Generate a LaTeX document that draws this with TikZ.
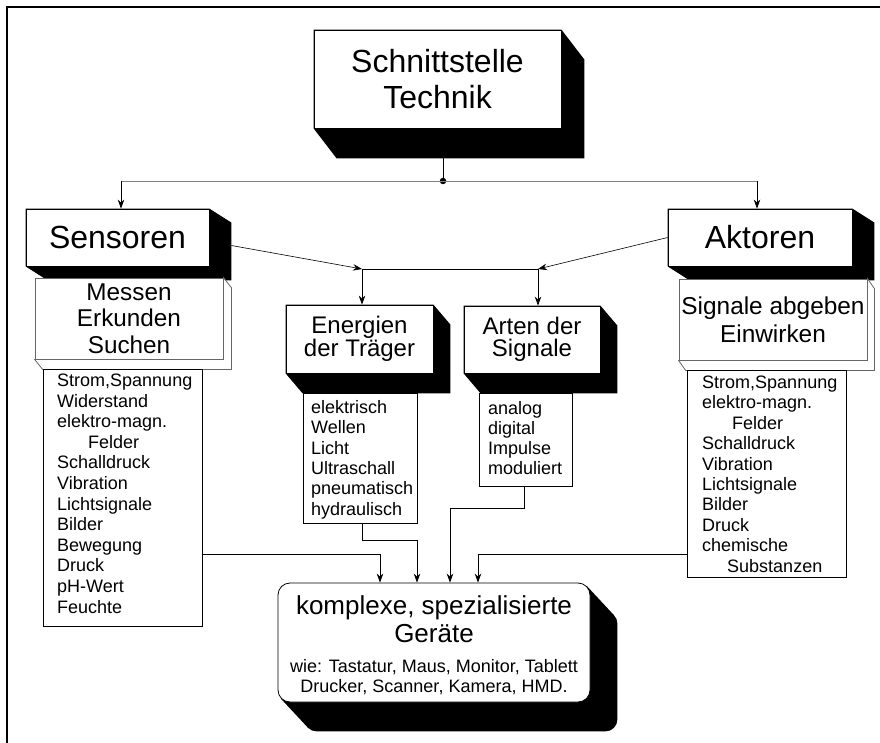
\documentclass[tikz,border=0pt]{standalone}
\usepackage{fontspec}
\setmainfont{Liberation Sans}
\usetikzlibrary{calc,arrows.meta}
\pgfdeclarelayer{bg}
\pgfsetlayers{bg,main}
\newcommand\fsz[2]{\fontsize{#1}{#2}\selectfont}
\newcommand\extr[3]{%
  \begin{pgfonlayer}{bg}
  \fill (#1.north west) -- (#1.north east) -- ($(#1.north east)+(#2,#3)$) -- ($(#1.south east)+(#2,#3)$) -- ($(#1.south west)+(#2,#3)$) -- (#1.south west) -- cycle;
  \end{pgfonlayer}}
\newcommand\outl[3]{%
  \begin{pgfonlayer}{bg}
  \filldraw[fill=white,draw=black!60,line width=0.8pt] (#1.north east) -- ($(#1.north east)+(#2,#3)$) -- ($(#1.south east)+(#2,#3)$) -- ($(#1.south west)+(#2,#3)$) -- (#1.south west) -- (#1.south east) -- cycle;
  \end{pgfonlayer}}
\begin{document}
\begin{tikzpicture}[x=1pt,y=-1pt,
  box/.style={draw=black,line width=0.8pt,fill=white,inner sep=0pt,align=center},
  gbox/.style={draw=black!60,line width=0.8pt,fill=white,inner sep=0pt,align=center},
  lbox/.style={draw=black,line width=0.8pt,fill=white,inner sep=0pt,anchor=north west},
  ltext/.style={anchor=base west,align=left,inner sep=0pt,font=\fsz{18}{#1}},
  arr/.style={-{Stealth[length=9pt,width=6.5pt]},line width=0.7pt},
  ln/.style={line width=0.7pt}]
\useasboundingbox (0,0) rectangle (880,743);
% frame
\draw[line width=2.5pt] (7,743) -- (7,7) -- (880,7);

% top box
\node[box,minimum width=247pt,minimum height=98pt,font=\fsz{32}{36}] (top) at (437.5,79) {Schnittstelle\\Technik};
\extr{top}{23}{30}

% Sensoren
\node[box,minimum width=183pt,minimum height=57pt,font=\fsz{32}{36}] (sens) at (117.5,237.5) {Sensoren};
\extr{sens}{22}{14}
\node[gbox,minimum width=188pt,minimum height=81pt,font=\fsz{24.3}{26.5}] (mess) at (129,318.5) {Messen\\Erkunden\\Suchen};
\outl{mess}{8}{10}
\node[lbox,minimum width=159pt,minimum height=257pt] (slist) at (43,369) {};
\node[ltext=20.6] (stext) at (57,613.1) {Strom,Spannung\\Widerstand\\elektro-magn.\\\hspace*{31pt}Felder\\Schalldruck\\Vibration\\Lichtsignale\\Bilder\\Bewegung\\Druck\\pH-Wert\\Feuchte};

% Aktoren
\node[box,minimum width=184pt,minimum height=57pt,font=\fsz{32}{36}] (akt) at (760,237.5) {Aktoren};
\extr{akt}{22}{14}
\node[gbox,minimum width=188pt,minimum height=81pt,font=\fsz{24.4}{28}] (sig) at (773,319.5) {Signale abgeben\\Einwirken};
\outl{sig}{7}{10}
\node[lbox,minimum width=159pt,minimum height=207pt] (alist) at (687,370) {};
\node[ltext=20.4] (atext) at (702,572.1) {Strom,Spannung\\elektro-magn.\\\hspace*{30pt}Felder\\Schalldruck\\Vibration\\Lichtsignale\\Bilder\\Druck\\chemische\\\hspace*{25pt}Substanzen};

% Energien
\node[box,minimum width=147pt,minimum height=68pt,font=\fsz{24}{22}] (ener) at (359.5,339) {Energien\\der Träger};
\extr{ener}{17}{20}
\node[lbox,minimum width=114pt,minimum height=130pt] (elist) at (303,393) {};
\node[ltext=20.3] (etext) at (311,515) {elektrisch\\Wellen\\Licht\\Ultraschall\\pneumatisch\\hydraulisch};

% Arten
\node[box,minimum width=136pt,minimum height=67pt,font=\fsz{24}{22}] (art) at (532,339.5) {Arten der\\Signale};
\extr{art}{17}{20}
\node[lbox,minimum width=93pt,minimum height=93pt] (rlist) at (479,393) {};
\node[ltext=20] (rtext) at (488,474.5) {analog\\digital\\Impulse\\moduliert};

% Geraete
\node[box,rounded corners=12pt,minimum width=312pt,minimum height=119pt] (ger) at (434,642.5) {};
\begin{pgfonlayer}{bg}
\fill[rounded corners=12pt] ($(ger.south west)+(27,29)$) rectangle ($(ger.north east)+(27,29)$);
\fill ($(ger.north east)+(-3.5,3.5)$) -- ($(ger.north east)+(23.5,32.5)$) -- ($(ger.south west)+(30.5,25.5)$) -- ($(ger.south west)+(3.5,-3.5)$) -- cycle;
\end{pgfonlayer}
\node[inner sep=0pt,align=center,font=\fsz{26}{28}] (gt1) at (434,619) {komplexe, spezialisierte\\Geräte};
\node[inner sep=0pt,align=center,font=\fsz{18}{20}] (gt2) at (434,677) {wie: Tastatur, Maus, Monitor, Tablett\\Drucker, Scanner, Kamera, HMD.};

% top connectors
\node[circle,fill=black,inner sep=0pt,minimum size=6.5pt] (dot) at (443,181) {};
\coordinate (cl) at (121,181);
\coordinate (cr) at (757,181);
\draw[ln] (dot |- top.south) -- (dot);
\draw[gray,line width=0.8pt] (cl) -- (cr);
\draw[arr] (cl) -- (cl |- sens.north);
\draw[arr] (cr) -- (cr |- akt.north);

% middle connectors
\coordinate (jl) at (362,269);
\coordinate (jr) at (538,269);
\draw[arr,line width=0.6pt] ($(sens.east)+(22,8)$) -- (jl);
\draw[arr,line width=0.6pt] (akt.west) -- (jr);
\draw[ln] (jl) -- (jr);
\draw[arr] (jl) -- (jl |- ener.north);
\draw[arr] (jr) -- (jr |- art.north);

% bottom connectors
\coordinate (b1) at (380,554);
\draw[arr] (slist.east |- b1) -- (b1) -- (b1 |- ger.north);
\coordinate (b2a) at (362,540);
\coordinate (b2b) at (417,540);
\draw[arr] (b2a |- elist.south) -- (b2a) -- (b2b) -- (b2b |- ger.north);
\coordinate (b3a) at (524,508);
\coordinate (b3b) at (450,508);
\draw[arr] (b3a |- rlist.south) -- (b3a) -- (b3b) -- (b3b |- ger.north);
\coordinate (b4) at (478,554);
\draw[arr] (alist.west |- b4) -- (b4) -- (b4 |- ger.north);
\end{tikzpicture}
\end{document}
